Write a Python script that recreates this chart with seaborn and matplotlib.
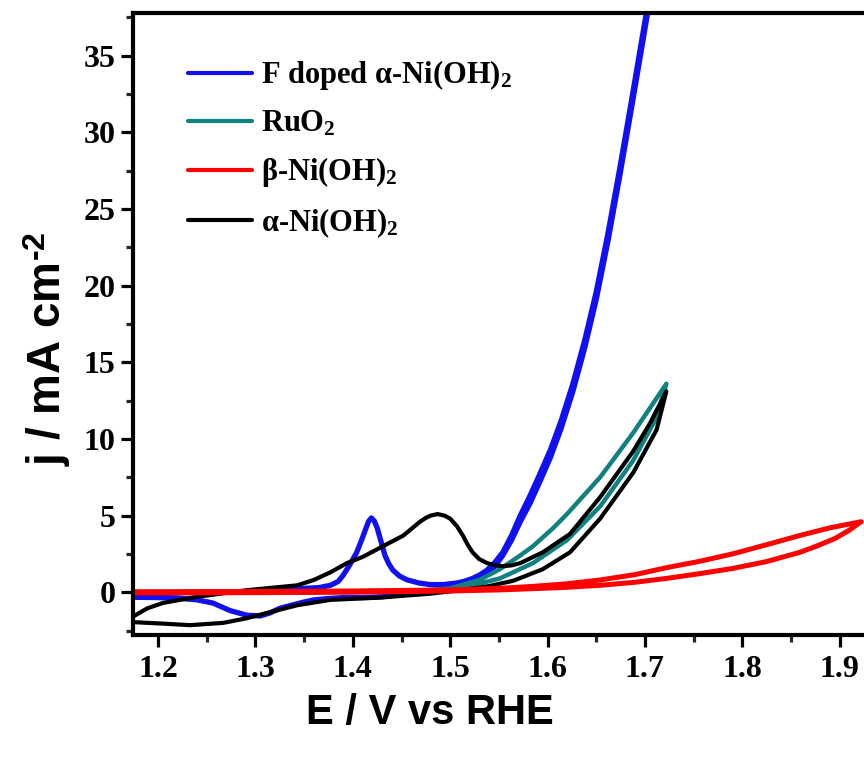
import numpy as np
import pandas as pd
import matplotlib
matplotlib.use("Agg")
import matplotlib.pyplot as plt
import seaborn as sns
from matplotlib.ticker import FixedLocator
from matplotlib.lines import Line2D

# ---------------- data ----------------
# F doped alpha-Ni(OH)2 : anodic sweep then cathodic sweep
f_fwd_E = [1.160, 1.174, 1.200, 1.250, 1.300, 1.330, 1.350, 1.365, 1.377, 1.385, 1.390, 1.397,
           1.404, 1.409, 1.4125, 1.416, 1.419, 1.422, 1.425, 1.429, 1.433, 1.437, 1.441, 1.448,
           1.456, 1.468, 1.479, 1.493, 1.507, 1.515, 1.523, 1.531, 1.538, 1.546, 1.554, 1.563,
           1.572, 1.582, 1.592, 1.603, 1.614, 1.626, 1.638, 1.650, 1.662, 1.674, 1.686, 1.698,
           1.710, 1.722]
f_fwd_j = [-0.25, -0.15, -0.05, 0.00, 0.05, 0.15, 0.25, 0.30, 0.45, 0.70, 1.10, 1.80,
           2.60, 3.40, 4.00, 4.60, 4.85, 4.65, 4.20, 3.30, 2.40, 1.85, 1.45, 1.05,
           0.80, 0.60, 0.50, 0.50, 0.60, 0.72, 0.90, 1.15, 1.45, 1.95, 2.60, 3.70,
           5.00, 6.30, 7.70, 9.30, 11.20, 13.60, 16.40, 19.60, 23.40, 27.60, 32.00, 36.50,
           41.00, 45.50]
f_rev_E = [1.722, 1.710, 1.698, 1.686, 1.674, 1.662, 1.650, 1.638, 1.626, 1.614, 1.603, 1.592,
           1.582, 1.572, 1.563, 1.554, 1.546, 1.538, 1.528, 1.515, 1.500, 1.485, 1.470, 1.450,
           1.430, 1.410, 1.390, 1.377, 1.360, 1.349, 1.337, 1.325, 1.315, 1.305, 1.291, 1.274,
           1.256, 1.240, 1.223, 1.200, 1.174, 1.160]
f_rev_j = [45.50, 40.50, 36.00, 31.50, 27.10, 22.90, 19.10, 15.90, 13.10, 10.70, 8.80, 7.20,
           5.80, 4.60, 3.40, 2.40, 1.70, 1.20, 0.80, 0.50, 0.28, 0.12, 0.00, -0.15,
           -0.30, -0.35, -0.35, -0.40, -0.50, -0.65, -0.85, -1.05, -1.35, -1.55, -1.50, -1.20,
           -0.70, -0.50, -0.40, -0.35, -0.33, -0.30]

# RuO2
ru_fwd_E = [1.450, 1.500, 1.530, 1.551, 1.572, 1.585, 1.606, 1.620, 1.654, 1.688, 1.705, 1.722]
ru_fwd_j = [0.00, 0.25, 0.80, 1.50, 2.40, 3.00, 4.20, 5.10, 7.50, 10.40, 12.00, 13.60]
ru_rev_E = [1.722, 1.712, 1.700, 1.688, 1.654, 1.620, 1.585, 1.551, 1.520, 1.490, 1.450]
ru_rev_j = [13.60, 11.40, 10.00, 8.60, 5.60, 3.40, 1.90, 0.90, 0.40, 0.10, -0.10]

# beta-Ni(OH)2
b_fwd_E = [1.160, 1.174, 1.300, 1.400, 1.500, 1.550, 1.585, 1.620, 1.654, 1.690, 1.722, 1.755,
           1.790, 1.825, 1.859, 1.890, 1.910, 1.922]
b_fwd_j = [0.03, 0.03, 0.05, 0.08, 0.15, 0.25, 0.38, 0.55, 0.80, 1.15, 1.60, 2.00,
           2.50, 3.10, 3.70, 4.20, 4.45, 4.60]
b_rev_E = [1.922, 1.910, 1.895, 1.876, 1.859, 1.825, 1.790, 1.755, 1.722, 1.690, 1.654, 1.620,
           1.585, 1.550, 1.500, 1.400, 1.300, 1.174, 1.160]
b_rev_j = [4.60, 4.05, 3.50, 3.00, 2.60, 2.00, 1.55, 1.20, 0.90, 0.65, 0.45, 0.32,
           0.23, 0.15, 0.08, 0.00, -0.03, -0.05, -0.05]

# alpha-Ni(OH)2
a_fwd_E = [1.160, 1.174, 1.189, 1.205, 1.240, 1.291, 1.343, 1.360, 1.377, 1.394, 1.410, 1.428,
           1.452, 1.469, 1.475, 1.480, 1.487, 1.494, 1.500, 1.507, 1.513, 1.518, 1.523, 1.530,
           1.538, 1.546, 1.554, 1.563, 1.572, 1.595, 1.623, 1.654, 1.688, 1.705, 1.722]
a_fwd_j = [-1.85, -1.60, -1.05, -0.70, -0.30, 0.13, 0.45, 0.80, 1.30, 1.90, 2.30, 2.90,
           3.70, 4.60, 4.85, 5.00, 5.10, 5.00, 4.80, 4.30, 3.70, 3.10, 2.60, 2.15,
           1.90, 1.75, 1.70, 1.75, 1.90, 2.60, 3.80, 6.20, 9.20, 11.00, 13.10]
a_rev_E = [1.722, 1.712, 1.700, 1.688, 1.654, 1.623, 1.595, 1.565, 1.540, 1.513, 1.479, 1.428,
           1.377, 1.343, 1.315, 1.291, 1.267, 1.233, 1.205, 1.174, 1.160]
a_rev_j = [13.10, 10.60, 9.20, 7.80, 4.80, 2.60, 1.50, 0.75, 0.40, 0.15, -0.10, -0.35,
           -0.50, -0.85, -1.30, -1.70, -2.00, -2.15, -2.05, -1.95, -1.85]

labels = ["F doped α-Ni(OH)$_2$", "RuO$_2$", "β-Ni(OH)$_2$", "α-Ni(OH)$_2$"]
colors = ["#1010f0", "#108080", "#ff0000", "#000000"]

x_ticks = [1.2, 1.3, 1.4, 1.5, 1.6, 1.7, 1.8, 1.9]
y_ticks = [0, 5, 10, 15, 20, 25, 30, 35]

# ---------------- style ----------------
sns.set_style("ticks")
plt.rcParams["font.family"] = ["Liberation Serif", "DejaVu Serif"]
plt.rcParams["font.weight"] = "bold"
plt.rcParams["mathtext.fontset"] = "custom"
plt.rcParams["mathtext.rm"] = "Liberation Serif:bold"
plt.rcParams["mathtext.it"] = "Liberation Serif:italic:bold"
plt.rcParams["mathtext.bf"] = "Liberation Serif:bold"
plt.rcParams["mathtext.sf"] = "Liberation Sans:bold"
plt.rcParams["text.color"] = "black"
plt.rcParams["axes.labelcolor"] = "black"

fig = plt.figure(figsize=(8.64, 7.57), dpi=100)
ax = fig.add_axes([0.154, 0.161, 0.846, 0.822])

def curve(E1, j1, E2, j2):
    return pd.DataFrame({"E": list(E1) + list(E2), "j": list(j1) + list(j2)})

d_f = curve(f_fwd_E, f_fwd_j, f_rev_E, f_rev_j)
d_ru = curve(ru_fwd_E, ru_fwd_j, ru_rev_E, ru_rev_j)
d_b = curve(b_fwd_E, b_fwd_j, b_rev_E, b_rev_j)
d_a = curve(a_fwd_E, a_fwd_j, a_rev_E, a_rev_j)

common = dict(x="E", y="j", sort=False, estimator=None, ax=ax, legend=False)
sns.lineplot(data=d_f, color=colors[0], linewidth=3.8, solid_joinstyle="round", **common)
sns.lineplot(data=d_ru, color=colors[1], linewidth=3.2, solid_joinstyle="round", **common)
sns.lineplot(data=d_a, color=colors[3], linewidth=3.0, solid_joinstyle="round", **common)
sns.lineplot(data=d_b, color=colors[2], linewidth=3.6, solid_joinstyle="round", **common)

ax.set_xlim(1.1743, 1.925)
ax.set_ylim(-2.8, 37.8)

ax.xaxis.set_major_locator(FixedLocator(x_ticks))
ax.xaxis.set_minor_locator(FixedLocator([1.25, 1.35, 1.45, 1.55, 1.65, 1.75, 1.85]))
ax.yaxis.set_major_locator(FixedLocator(y_ticks))
ax.yaxis.set_minor_locator(FixedLocator([-2.5, 2.5, 7.5, 12.5, 17.5, 22.5, 27.5, 32.5, 37.5]))
ax.set_xticklabels([f"{v:.1f}" for v in x_ticks])
ax.set_yticklabels([str(v) for v in y_ticks])

for s in ["left", "bottom", "top"]:
    ax.spines[s].set_linewidth(3.0)
    ax.spines[s].set_color("black")
ax.spines["right"].set_visible(False)

ax.tick_params(axis="both", which="major", direction="out", length=8.5, width=2.3,
               labelsize=23, colors="black")
ax.tick_params(axis="both", which="minor", direction="out", length=5, width=2.3)
ax.tick_params(axis="x", pad=6)
ax.tick_params(axis="y", pad=4)
for t in ax.get_xticklabels() + ax.get_yticklabels():
    t.set_fontweight("bold")

ax.set_xlabel("E / V vs RHE", fontsize=30, fontweight="bold", family="Liberation Sans",
              color="black")
ax.set_ylabel("j / mA cm$^{\\mathsf{‐2}}$", fontsize=33, fontweight="bold",
              family="Liberation Sans", color="black")
ax.xaxis.set_label_coords(0.406, -0.093)
ax.yaxis.set_label_coords(-0.082, 0.46)

handles = [Line2D([0], [0], color=c, lw=3.0, solid_capstyle="round") for c in colors]
leg = ax.legend(handles, labels, loc="upper left", bbox_to_anchor=(0.075, 0.927),
                frameon=False, fontsize=22, handlelength=2.1, handletextpad=0.3,
                labelspacing=0.55, borderpad=0, borderaxespad=0)
for t in leg.get_texts():
    t.set_fontweight("bold")
    t.set_color("black")

fig.savefig("out.png", dpi=100)
